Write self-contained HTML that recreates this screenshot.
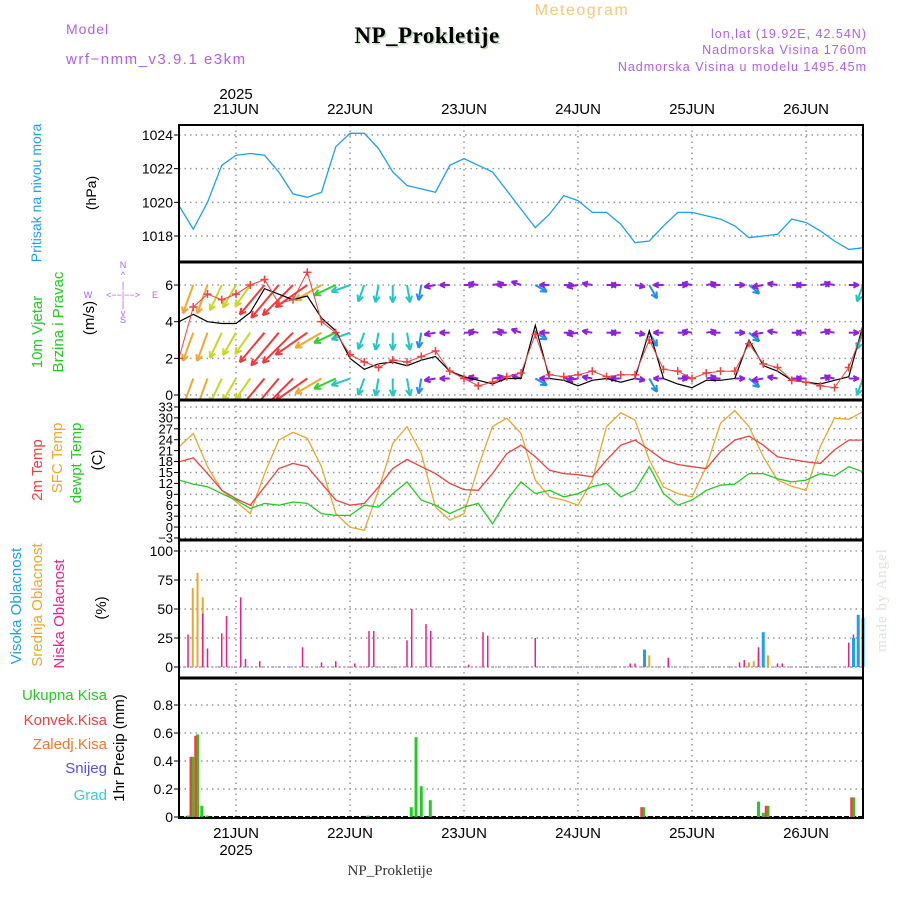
<!DOCTYPE html>
<html><head><meta charset="utf-8">
<style>
html,body{margin:0;padding:0;background:#fff;}
#wrap{position:relative;width:900px;height:900px;overflow:hidden;font-family:"Liberation Sans",sans-serif;}
svg{position:absolute;left:0;top:0;}
</style></head>
<body>
<div id="wrap">
<svg id="chart" width="900" height="900" viewBox="0 0 900 900">
  <text x="582" y="15" font-size="16" fill="#f5c77e" text-anchor="middle" letter-spacing="1.5">Meteogram</text>
  <text x="427" y="43" font-size="23" font-weight="bold" font-family="Liberation Serif, serif" fill="#bcd8bc" text-anchor="middle" letter-spacing="0.5" transform="translate(1.5,1.5)">NP_Prokletije</text>
  <text x="427" y="43" font-size="23" font-weight="bold" font-family="Liberation Serif, serif" fill="#000" text-anchor="middle" letter-spacing="0.5">NP_Prokletije</text>
  <text x="66" y="34" font-size="14" fill="#b060e8" letter-spacing="1">Model</text>
  <text x="66" y="64" font-size="15" fill="#b060e8" letter-spacing="1.5">wrf−nmm_v3.9.1  e3km</text>
  <text x="867" y="38" font-size="12.5" fill="#b060e8" text-anchor="end" letter-spacing="1">lon,lat (19.92E, 42.54N)</text>
  <text x="867" y="54" font-size="12.5" fill="#b060e8" text-anchor="end" letter-spacing="1">Nadmorska Visina 1760m</text>
  <text x="867" y="71" font-size="12.5" fill="#b060e8" text-anchor="end" letter-spacing="1">Nadmorska Visina u modelu 1495.45m</text>
  <text x="390" y="875" font-size="15" font-family="Liberation Serif, serif" fill="#333" text-anchor="middle">NP_Prokletije</text>
  <text transform="translate(886,600) rotate(-90)" font-size="15" font-family="Liberation Serif, serif" fill="#d8e6d8" text-anchor="middle" letter-spacing="1">made by Angel</text>

  <text transform="translate(41,193) rotate(-90)" font-size="14" fill="#1ea0f0" text-anchor="middle">Pritisak na nivou mora</text>
  <text transform="translate(96,193) rotate(-90)" font-size="14" fill="#000" text-anchor="middle">(hPa)</text>
  <text transform="translate(42,332) rotate(-90)" font-size="15" fill="#22cc22" text-anchor="middle">10m Vjetar</text>
  <text transform="translate(63,322) rotate(-90)" font-size="15" fill="#22cc22" text-anchor="middle">Brzina i Pravac</text>
  <text transform="translate(94,318) rotate(-90)" font-size="15" fill="#000" text-anchor="middle">(m/s)</text>
  <g fill="#b060e8" font-size="9" text-anchor="middle">
    <text x="123" y="268">N</text><text x="123" y="278">^</text><text x="123" y="288">|</text>
    <text x="88" y="298">W</text><text x="123" y="298">&lt;−−|−−&gt;</text><text x="155" y="298">E</text>
    <text x="123" y="307">|</text><text x="123" y="316">v</text><text x="123" y="323">S</text>
  </g>
  <text transform="translate(42,470) rotate(-90)" font-size="15" fill="#f04040" text-anchor="middle">2m Temp</text>
  <text transform="translate(62,458) rotate(-90)" font-size="15" fill="#f0a830" text-anchor="middle">SFC Temp</text>
  <text transform="translate(81,463) rotate(-90)" font-size="15" fill="#22cc22" text-anchor="middle">dewpt Temp</text>
  <text transform="translate(102,460) rotate(-90)" font-size="15" fill="#000" text-anchor="middle">(C)</text>
  <text transform="translate(21,606) rotate(-90)" font-size="15" fill="#1ea0f0" text-anchor="middle">Visoka Oblacnost</text>
  <text transform="translate(42,605) rotate(-90)" font-size="15" fill="#f0a830" text-anchor="middle">Srednja Oblacnost</text>
  <text transform="translate(64,614) rotate(-90)" font-size="15" fill="#f0208a" text-anchor="middle">Niska Oblacnost</text>
  <text transform="translate(106,608) rotate(-90)" font-size="15" fill="#000" text-anchor="middle">(%)</text>
  <g font-size="15" text-anchor="end">
    <text x="107" y="700" fill="#22cc22">Ukupna Kisa</text>
    <text x="107" y="725" fill="#f04040">Konvek.Kisa</text>
    <text x="107" y="749" fill="#f07830">Zaledj.Kisa</text>
    <text x="107" y="773" fill="#5050f0">Snijeg</text>
    <text x="107" y="800" fill="#30d0d0">Grad</text>
  </g>
  <text transform="translate(124,748) rotate(-90)" font-size="15" fill="#000" text-anchor="middle">1hr Precip (mm)</text>
  <g id="plot"></g>
</svg>
</div>
<script>
const hours3 = [0,3,6,9,12,15,18,21,24,27,30,33,36,39,42,45,48,51,54,57,60,63,66,69,72,75,78,81,84,87,90,93,96,99,102,105,108,111,114,117,120,123,126,129,132,135,138,141,144];
const pressure = [1019.8,1018.4,1020.0,1022.2,1022.8,1022.9,1022.8,1021.8,1020.5,1020.3,1020.6,1023.3,1024.1,1024.1,1023.2,1021.8,1021.0,1020.8,1020.6,1022.2,1022.6,1022.2,1021.8,1020.7,1019.6,1018.5,1019.3,1020.4,1020.1,1019.4,1019.4,1018.7,1017.6,1017.7,1018.6,1019.4,1019.4,1019.2,1019.0,1018.6,1017.9,1018.0,1018.1,1019.0,1018.8,1018.3,1017.7,1017.2,1017.3];
const windSpeedLine = [4.0,4.4,4.0,3.9,3.9,4.5,5.8,5.5,5.2,5.4,4.2,3.5,2.0,1.4,1.7,1.8,1.6,1.9,2.1,1.3,1.0,0.8,0.6,0.9,0.9,3.8,0.9,0.8,0.5,0.8,0.9,0.7,0.9,3.5,0.9,0.6,0.4,0.8,0.8,0.9,3.0,1.6,1.3,0.8,0.7,0.6,0.8,1.0,3.8];
const windGust = [2.0,4.8,5.5,5.2,5.5,6.0,6.3,5.0,5.2,6.7,4.0,3.4,2.2,1.8,1.5,1.9,1.8,2.1,2.4,1.3,0.9,0.5,0.7,1.0,1.2,3.3,1.1,1.0,1.1,1.3,1.0,1.1,1.1,3.0,1.4,1.3,0.9,1.2,1.3,1.3,2.8,1.7,1.5,0.8,0.7,0.5,0.4,1.5,3.5];
const arrowSpeed = [6,6,6,5.5,5,5,8,9,9,8,6,4.5,3.5,3,3,3,3,2.5,1.5,1.2,1.2,1.2,1.5,1.2,1.2,2,1.2,1.2,1.5,1.2,1.2,1.2,1.2,2.5,1.2,1.2,1.2,1.2,1.2,1.2,2,1.5,1.2,1.2,1.2,1.2,1.2,1.2,3];
const arrowDirFrom = [20,20,20,25,30,35,40,40,45,55,60,65,70,20,10,0,350,10,80,90,270,100,260,90,110,300,90,270,80,100,270,90,280,330,90,270,100,260,90,270,310,80,100,270,90,260,100,270,20];
const temp2m = [17.9,19.0,14.7,10.1,7.8,6.0,11.0,16.1,17.5,16.6,12.0,7.4,6.0,6.5,11.0,16.1,18.6,16.6,14.7,12.0,10.3,10.1,14.7,20.2,22.5,19.3,15.6,14.7,14.4,13.8,18.4,22.5,23.9,21.2,18.4,17.2,16.6,16.1,20.7,23.9,25.0,22.5,19.3,18.6,17.9,17.5,21.2,23.9,23.9];
const tempSfc = [22.0,25.7,16.6,10.1,7.0,3.7,14.7,23.9,26.0,24.4,16.6,3.7,0.0,-0.9,10.1,23.0,27.6,20.2,5.5,1.9,3.7,16.6,27.6,29.9,25.7,12.9,8.3,7.4,6.0,12.9,27.6,31.4,29.4,18.4,11.0,9.2,8.3,16.6,28.5,32.0,27.6,19.3,12.9,11.2,10.1,22.1,29.9,29.6,31.7];
const dewpoint = [12.9,11.8,11.1,9.2,7.4,5.1,6.5,6.0,6.9,6.5,3.7,3.2,3.2,6.0,5.5,9.2,12.4,7.4,6.0,3.7,5.5,6.5,0.9,7.4,12.4,9.2,10.1,8.3,9.2,11.1,12.0,8.3,10.1,16.6,9.2,6.0,7.4,10.1,11.5,11.8,14.7,14.7,13.3,12.4,12.9,14.7,14.0,16.6,15.2];
const lowCloudHours = [1.9,5,6,9,10,13,14,17,26,30,33,37,40,41,48,49,52,53,61,64,65,75,95,96,103,118,119,122,123,126,127,141,142];
const lowCloud = [28,46,16,29,44,60,7,5,17,4,5,3,31,31,23,50,37,31,2,30,27,25,3,3,8,4,6,17,16,3,3,21,28];
const midCloudHours = [2.9,3.9,5,98,99,120,121,122,124];
const midCloud = [68,81,60,15,10,4,5,13,10];
const highCloudHours = [98,123,142,143,144];
const highCloud = [15,30,25,45,42];
const precipHours = [1.9,2.9,3.9,4.8,5.9,39.8,48.9,49.9,51,52.9,97.8,122,123,124,142];
const precipTotal = [0.01,0.43,0.59,0.08,0.01,0.01,0.07,0.57,0.22,0.12,0.07,0.11,0.03,0.08,0.14];
const convHours = [2.9,3.9,97.8,124,142];
const convPrecip = [0.43,0.58,0.07,0.08,0.14];
const dayLabels = ["21JUN","22JUN","23JUN","24JUN","25JUN","26JUN"];
const dayHours = [12,36,60,84,108,132];
const pTicks = [1018,1020,1022,1024];
const wTicks = [0,2,4,6];
const tTicks = [-3,0,3,6,9,12,15,18,21,24,27,30,33];
const cTicks = [0,25,50,75,100];
const rTicks = [0,0.2,0.4,0.6,0.8];

const NS = "http://www.w3.org/2000/svg";
const plot = document.getElementById('plot');
const X0 = 179, X1 = 863, HMAX = 144;
const xs = h => X0 + (h / HMAX) * (X1 - X0);
const panels = {
  p: {top:125, bot:262, y:v => 135 + (1024 - v) * 16.83},
  w: {top:262, bot:400, y:v => 395 - v * 18.33},
  t: {top:400, bot:540, y:v => 538 - (v + 3) * 3.64},
  c: {top:540, bot:678, y:v => 667 - v * 1.16},
  r: {top:678, bot:818, y:v => 817 - v * 140}
};
function el(tag, attrs, parent) {
  const e = document.createElementNS(NS, tag);
  for (const k in attrs) e.setAttribute(k, attrs[k]);
  (parent || plot).appendChild(e);
  return e;
}
function txt(x, y, s, attrs, parent) {
  const t = el('text', Object.assign({x:x, y:y}, attrs), parent);
  t.textContent = s;
  return t;
}
const defs = el('defs', {});
for (const k in panels) {
  const cp = el('clipPath', {id:'clip-' + k}, defs);
  el('rect', {x:X0, y:panels[k].top, width:X1 - X0, height:panels[k].bot - panels[k].top}, cp);
}
function drawGrid(key, ticks, fmt, name, fs) {
  const P = panels[key];
  const g = el('g', {});
  
  
  dayHours.forEach(h => {
    el('line', {x1:xs(h), x2:xs(h), y1:P.top, y2:P.bot, stroke:'#999', 'stroke-width':1.5, 'stroke-dasharray':'1.5,4'}, g);
  });
  ticks.forEach(v => {
    const y = P.y(v);
    el('line', {x1:X0, x2:X1, y1:y, y2:y, stroke:'#999', 'stroke-width':1.5, 'stroke-dasharray':'1.5,4'}, g);
    el('line', {x1:X0 - 5, x2:X0, y1:y, y2:y, stroke:'#000', 'stroke-width':1}, g);
    const t = txt(X0 - 6, y + fs * 0.36, fmt(v), {'font-size':fs, 'text-anchor':'end', fill:'#000'}, g);
    
    
  });
}
drawGrid('p', pTicks, v => String(v), 'pressure', 14);
drawGrid('w', wTicks, v => String(v), 'wind', 14);
drawGrid('t', tTicks, v => v < 0 ? '−' + Math.abs(v) : String(v), 'temperature', 13);
drawGrid('c', cTicks, v => String(v), 'cloud', 14);
drawGrid('r', rTicks, v => String(v), 'precip', 14);

function line(key, hs, vals, color, name, w) {
  const P = panels[key];
  const d = vals.map((v, i) => (i ? 'L' : 'M') + xs(hs[i]).toFixed(1) + ',' + P.y(v).toFixed(1)).join('');
  const p = el('path', {d:d, fill:'none', stroke:color, 'stroke-width':w || 1.3, 'clip-path':'url(#clip-' + key + ')'});
  
  
  return p;
}
line('p', hours3, pressure, '#1ea0f0', 'pressure-line');

function spdColor(s) {
  if (s >= 8) return '#f03a3a';
  if (s >= 7) return '#f07030';
  if (s >= 6) return '#f0a830';
  if (s >= 5) return '#c8d820';
  if (s >= 4) return '#30d030';
  if (s >= 3) return '#20c8c0';
  if (s >= 2) return '#2090f0';
  if (s >= 1.6) return '#3050f0';
  return '#9020e0';
}
const rowLevels = [6, 3.4, 0.9];
const windG = el('g', {'clip-path':'url(#clip-w)'});


rowLevels.forEach(lv => {
  const y0 = panels.w.y(lv);
  hours3.forEach((h, i) => {
    const s = arrowSpeed[i];
    const a = (arrowDirFrom[i] + 180) * Math.PI / 180;
    const L = 5 + s * 4.2;
    const x0 = xs(h);
    const x1 = x0 + L * Math.sin(a), y1 = y0 - L * Math.cos(a);
    const c = spdColor(s);
    const g = el('g', {stroke:c, 'stroke-width':2, fill:'none'}, windG);
    
    
    el('line', {x1:x0, y1:y0, x2:x1, y2:y1}, g);
    const ha = 0.45, hl = Math.min(7, L * 0.4 + 2);
    const back = Math.atan2(y0 - y1, x0 - x1);
    el('line', {x1:x1, y1:y1, x2:x1 + hl * Math.cos(back + ha), y2:y1 + hl * Math.sin(back + ha)}, g);
    el('line', {x1:x1, y1:y1, x2:x1 + hl * Math.cos(back - ha), y2:y1 + hl * Math.sin(back - ha)}, g);
  });
});
line('w', hours3, windSpeedLine, '#000', 'wind-speed-line', 1.2);
const gustG = el('g', {'clip-path':'url(#clip-w)'});


line('w', hours3, windGust, '#f04040', 'wind-gust-line', 1);
hours3.forEach((h, i) => {
  const x = xs(h), y = panels.w.y(windGust[i]);
  const m = el('path', {d:`M${x - 4},${y}H${x + 4}M${x},${y - 4}V${y + 4}`, stroke:'#f04040', 'stroke-width':1.5}, gustG);
  
  
});

line('t', hours3, tempSfc, '#e8a830', 'sfc-temp-line');
line('t', hours3, temp2m, '#f04040', 'temp-2m-line');
line('t', hours3, dewpoint, '#22cc22', 'dewpoint-line');

function bars(key, hs, vals, color, width, off, name) {
  const P = panels[key];
  const g = el('g', {fill:color});
  
  
  hs.forEach((h, i) => {
    const y = P.y(vals[i]), y0 = P.y(0);
    const r = el('rect', {x:xs(h) + off - width / 2, y:y, width:width, height:Math.max(0, y0 - y)}, g);
    
    
  });
}
el('line', {x1:X0, x2:X1, y1:panels.c.y(0), y2:panels.c.y(0), stroke:'#c0a0d0', 'stroke-width':1.5, 'stroke-dasharray':'2,2'});
bars('c', midCloudHours, midCloud, '#e8a830', 2, 0, 'mid-cloud');
bars('c', lowCloudHours, lowCloud, '#e8208a', 1.5, 0, 'low-cloud');
bars('c', highCloudHours, highCloud, '#1ea0f0', 3, 0, 'high-cloud');

el('line', {x1:X0, x2:X1, y1:panels.r.y(0), y2:panels.r.y(0), stroke:'#000', 'stroke-width':2, 'stroke-dasharray':'5,2'});
bars('r', precipHours, precipTotal, '#22cc22', 3, 0, 'total-precip');
bars('r', convHours, convPrecip, '#f04040', 2.5, -2, 'convective-precip');

dayHours.forEach((h, i) => {
  const a = txt(xs(h), 114, dayLabels[i], {'font-size':15, 'text-anchor':'middle', fill:'#000'});
  
  
  const b = txt(xs(h), 838, dayLabels[i], {'font-size':15, 'text-anchor':'middle', fill:'#000'});
  
  
});
const y1 = txt(xs(12), 99, '2025', {'font-size':15, 'text-anchor':'middle', fill:'#000'});


const y2 = txt(xs(12), 855, '2025', {'font-size':15, 'text-anchor':'middle', fill:'#000'});



for (const k in panels) {
  const P = panels[k];
  const r = el('rect', {x:X0, y:P.top, width:X1 - X0, height:P.bot - P.top, fill:'none', stroke:'#000', 'stroke-width':2});
  
  
}
[262, 400, 540, 678].forEach(y => {
  el('line', {x1:X0, x2:X1, y1:y, y2:y, stroke:'#000', 'stroke-width':3});
});
</script>
</body></html>
